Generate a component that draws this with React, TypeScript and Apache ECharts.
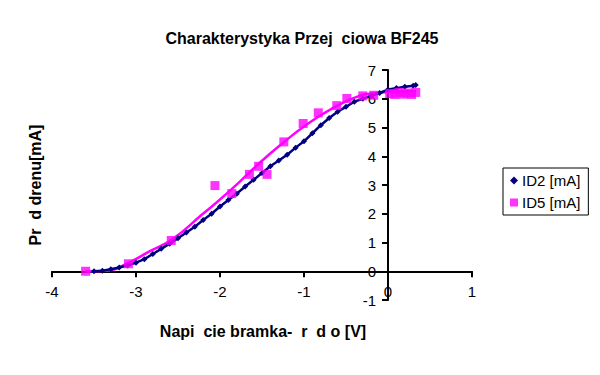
import React, { useEffect, useRef } from "react";
import * as echarts from "echarts";

const titleText = "Charakterystyka Przej  ciowa BF245";
const xAxisName = "Napi  cie bramka-  r  d o [V]";
const yAxisName = "Pr  d drenu[mA]";
const seriesNames = ["ID2 [mA]", "ID5 [mA]"];

const id2X = [-3.5, -3.4, -3.3, -3.2, -3.1, -3.0, -2.9, -2.8, -2.7, -2.6, -2.5, -2.4, -2.3, -2.2, -2.1, -2.0, -1.9, -1.8, -1.7, -1.6, -1.5, -1.4, -1.3, -1.2, -1.1, -1.0, -0.9, -0.8, -0.7, -0.6, -0.5, -0.4, -0.3, -0.2, -0.1, 0, 0.1, 0.2, 0.3, 0.33];
const id2Y = [0, 0.02, 0.07, 0.13, 0.2, 0.3, 0.42, 0.6, 0.78, 0.96, 1.15, 1.35, 1.55, 1.78, 2.0, 2.25, 2.48, 2.7, 2.95, 3.18, 3.42, 3.65, 3.85, 4.05, 4.3, 4.52, 4.8, 5.08, 5.33, 5.55, 5.72, 5.9, 6.0, 6.1, 6.2, 6.32, 6.37, 6.42, 6.45, 6.48];

const id5X = [-3.6, -3.09, -2.58, -2.06, -1.86, -1.65, -1.54, -1.44, -1.24, -1.01, -0.83, -0.61, -0.49, -0.3, -0.17, 0.02, 0.08, 0.13, 0.18, 0.23, 0.28, 0.33];
const id5Y = [0, 0.26, 1.07, 2.98, 2.7, 3.37, 3.65, 3.37, 4.5, 5.14, 5.51, 5.76, 6.01, 6.1, 6.12, 6.18, 6.15, 6.22, 6.16, 6.2, 6.15, 6.22];

const trendX = [-3.6, -3.36, -3.08, -2.84, -2.56, -2.21, -2.01, -1.77, -1.54, -1.26, -0.98, -0.7, -0.42, -0.18, 0.33];
const trendY = [0, 0.02, 0.31, 0.69, 1.13, 1.98, 2.47, 3.1, 3.74, 4.44, 5.08, 5.6, 6.01, 6.19, 6.27];

const xMin = -4;
const xMax = 1;
const yMin = -1;
const yMax = 7;

const NAVY = "#000080";
const MAGENTA = "#FF00FF";
const FONT = "Liberation Sans";

const W = 600;
const H = 375;
const G = { left: 52, right: 128, top: 70, bottom: 75 };

export default function App() {
  const ref = useRef<HTMLDivElement>(null);
  useEffect(() => {
    if (!ref.current) return;
    const chart = echarts.init(ref.current, undefined, { renderer: "svg" });
    const zip = (xs: number[], ys: number[]) => xs.map((x, i) => [x, ys[i]]);
    const gw = W - G.left - G.right;
    const gh = H - G.top - G.bottom;
    // shift axes so they cross at zero (labels follow the shifted axis)
    const yAxisOffset = -((0 - xMin) / (xMax - xMin)) * gw;
    const xAxisOffset = -((0 - yMin) / (yMax - yMin)) * gh;
    chart.setOption({
      animation: false,
      backgroundColor: "#ffffff",
      title: {
        text: titleText,
        left: 297,
        top: 25,
        textAlign: "center",
        textStyle: { fontFamily: FONT, fontSize: 16, fontWeight: "bold", color: "#000" },
      },
      grid: G,
      xAxis: {
        type: "value",
        min: xMin,
        max: xMax,
        interval: 1,
        position: "bottom",
        offset: xAxisOffset,
        axisLine: { onZero: false, lineStyle: { color: "#000", width: 2 } },
        axisTick: { show: true, inside: false, length: 6, lineStyle: { color: "#000", width: 2 } },
        axisLabel: { margin: 13, fontFamily: FONT, fontSize: 15, color: "#000" },
        splitLine: { show: false },
      },
      yAxis: {
        type: "value",
        min: yMin,
        max: yMax,
        interval: 1,
        position: "left",
        offset: yAxisOffset,
        axisLine: { show: true, onZero: false, lineStyle: { color: "#000", width: 2 } },
        axisTick: { show: true, inside: false, length: 6, lineStyle: { color: "#000", width: 2 } },
        axisLabel: { margin: 12, fontFamily: FONT, fontSize: 15, color: "#000" },
        splitLine: { show: false },
      },
      legend: {
        orient: "vertical",
        left: 503,
        top: 168,
        padding: [5, 8, 5, 7],
        itemGap: 7,
        itemWidth: 8,
        itemHeight: 8,
        borderColor: "#000",
        borderWidth: 1,
        textStyle: { fontFamily: FONT, fontSize: 15, color: "#000", padding: [0, 0, 0, -1] },
        data: [
          { name: seriesNames[0], icon: "diamond" },
          { name: seriesNames[1], icon: "rect" },
        ],
      },
      graphic: [
        {
          type: "text",
          x: 263,
          y: 331,
          style: {
            text: xAxisName,
            fontFamily: FONT,
            fontSize: 16,
            fontWeight: "bold",
            fill: "#000",
            align: "center",
            verticalAlign: "middle",
          },
        },
        {
          type: "text",
          x: 35,
          y: 185,
          rotation: Math.PI / 2,
          style: {
            text: yAxisName,
            fontFamily: FONT,
            fontSize: 16,
            fontWeight: "bold",
            fill: "#000",
            align: "center",
            verticalAlign: "middle",
          },
        },
      ],
      series: [
        {
          name: "trend",
          type: "line",
          data: zip(trendX, trendY),
          smooth: true,
          showSymbol: false,
          lineStyle: { color: MAGENTA, width: 2.5 },
          itemStyle: { color: MAGENTA },
          z: 2,
        },
        {
          name: seriesNames[0],
          type: "line",
          data: zip(id2X, id2Y),
          symbol: "diamond",
          symbolSize: 6,
          showAllSymbol: true,
          lineStyle: { color: NAVY, width: 2.5 },
          itemStyle: { color: NAVY },
          z: 3,
        },
        {
          name: seriesNames[1],
          type: "scatter",
          data: zip(id5X, id5Y),
          symbol: "rect",
          symbolSize: 9,
          itemStyle: { color: MAGENTA },
          z: 4,
        },
      ],
    });
    return () => chart.dispose();
  }, []);
  return <div ref={ref} style={{ width: W, height: H, margin: -8 }} />;
}
